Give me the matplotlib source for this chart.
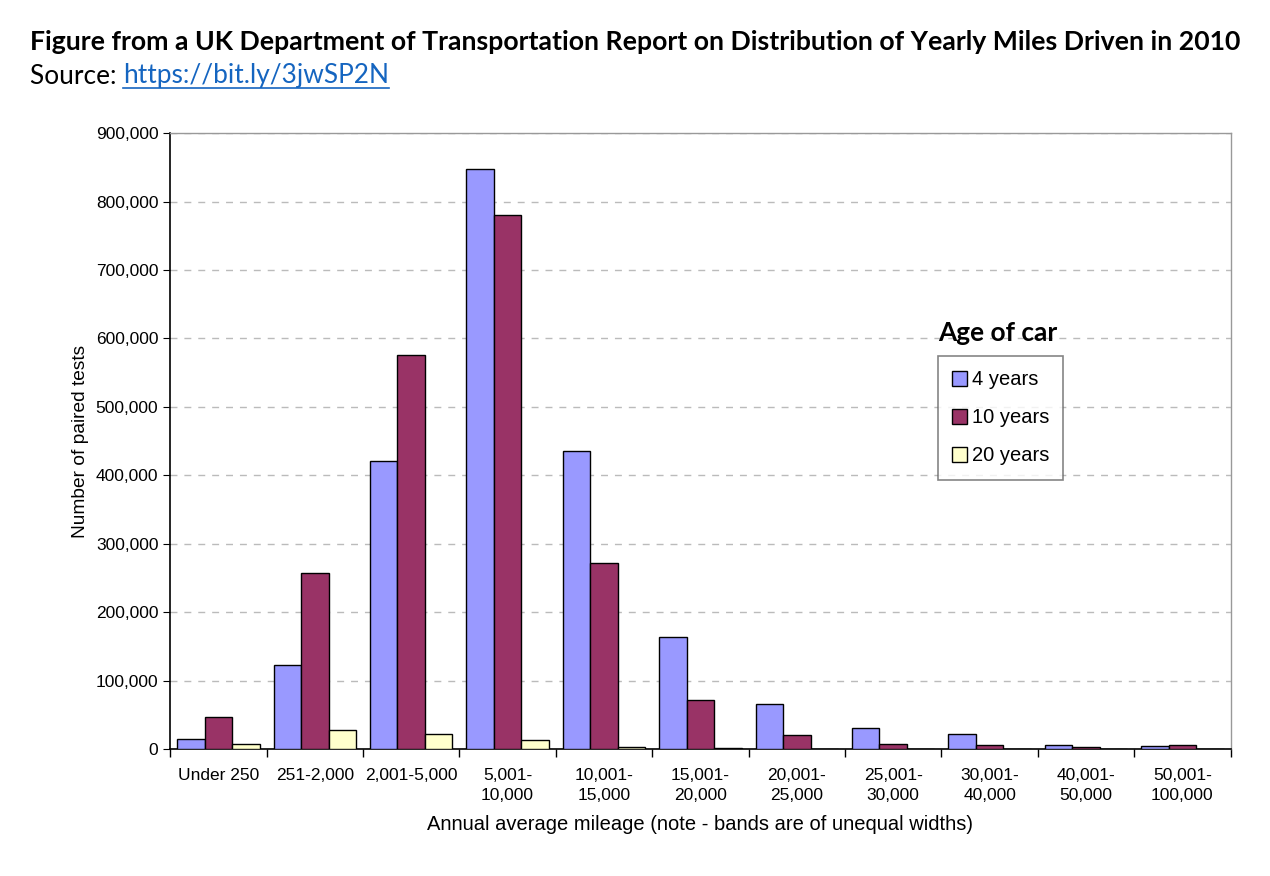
import numpy as np
import matplotlib
matplotlib.use("Agg")
import matplotlib.pyplot as plt
from matplotlib.ticker import FuncFormatter, MultipleLocator

plt.rcParams.update({'font.family': 'sans-serif', 'font.sans-serif': ['Liberation Sans', 'DejaVu Sans']})

bands = ["Under 250", "251-2,000", "2,001-5,000", "5,001-\n10,000", "10,001-\n15,000",
         "15,001-\n20,000", "20,001-\n25,000", "25,001-\n30,000", "30,001-\n40,000",
         "40,001-\n50,000", "50,001-\n100,000"]
ages = ["4 years", "10 years", "20 years"]
yrs4 = [15000, 123000, 421000, 847000, 436000, 164000, 66000, 30000, 22000, 6000, 5000]
yrs10 = [47000, 257000, 576000, 781000, 272000, 72000, 21000, 7000, 6000, 2500, 6000]
yrs20 = [7000, 28000, 22000, 13000, 3000, 1000, 500, 300, 200, 100, 100]
COLORS = ["#9999FF", "#993366", "#FFFFCC"]

fig = plt.figure(figsize=(12.7, 8.76), dpi=100)
fig.patch.set_facecolor('white')
ax = fig.add_axes([0.134, 0.145, 0.835, 0.703])

x = np.arange(len(bands))
w = 0.285
for k, (vals, lab, c) in enumerate(zip([yrs4, yrs10, yrs20], ages, COLORS)):
    ax.bar(x + (k - 1) * w, vals, width=w, color=c, edgecolor='black', lw=1.0, label=lab, zorder=3)

ax.set_xlim(-0.5, len(bands) - 0.5)
ax.set_ylim(0, 900000)
ax.yaxis.set_major_locator(MultipleLocator(100000))
ax.yaxis.set_major_formatter(FuncFormatter(lambda v, p: f"{int(v):,}"))
ax.yaxis.grid(True, ls=(0, (5, 5)), color='#BBBBBB', lw=1.0, zorder=0)
ax.set_xticks(x)
ax.set_xticklabels(bands, fontsize=12.5, linespacing=1.35)
ax.set_xticks(np.arange(len(bands) + 1) - 0.5, minor=True)
ax.tick_params(axis='x', which='major', length=0, pad=14)
ax.tick_params(axis='x', which='minor', length=6, width=1.0, direction='out')
ax.tick_params(axis='y', labelsize=12.5, length=5, direction='out')
for s in ['left', 'bottom']:
    ax.spines[s].set_color('black'); ax.spines[s].set_linewidth(1.2)
for s in ['top', 'right']:
    ax.spines[s].set_color('#999999'); ax.spines[s].set_linewidth(1.0)

ax.set_ylabel("Number of paired tests", fontsize=13.8, labelpad=5)
ax.set_xlabel("Annual average mileage (note - bands are of unequal widths)", fontsize=14.5, labelpad=9)

leg = ax.legend(loc='upper left', bbox_to_anchor=(0.7236, 0.638), fontsize=14.5, frameon=True,
                fancybox=False, edgecolor='#666666', handlelength=0.75, handleheight=0.75,
                handletextpad=0.25, labelspacing=0.95, borderpad=0.7, borderaxespad=0)
leg.get_frame().set_linewidth(1.2)
fig.text(998 / 1270, 1 - 333 / 876, "Age of car", ha='center', va='center', fontsize=18.9,
         fontweight='bold', family='Lato')

fig.text(30 / 1270, 1 - 42 / 876,
         "Figure from a UK Department of Transportation Report on Distribution of Yearly Miles Driven in 2010",
         ha='left', va='center', fontsize=19.2, fontweight='bold', family='Lato')
src = fig.text(30 / 1270, 1 - 76 / 876, "Source: ", ha='left', va='center', fontsize=18.9, family='Lato')
fig.canvas.draw()
r = fig.canvas.get_renderer()
bb = src.get_window_extent(r)
link = fig.text(bb.x1 / 1270, 1 - 76 / 876, "https://bit.ly/3jwSP2N", ha='left', va='center',
                fontsize=18.9, family='Lato', color='#1565C0')
lb = link.get_window_extent(r)
fig.add_artist(plt.Line2D([lb.x0 / 1270, lb.x1 / 1270], [(lb.y0 + 1) / 876] * 2,
                          color='#1565C0', lw=1.2, transform=fig.transFigure))

fig.savefig("out.png", dpi=100, facecolor='white')
